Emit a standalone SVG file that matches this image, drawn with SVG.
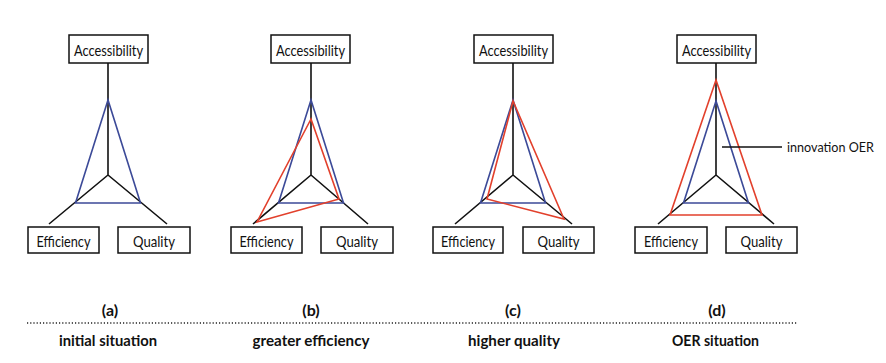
<svg xmlns="http://www.w3.org/2000/svg" width="886" height="363" viewBox="0 0 886 363">
<style>
.box{fill:#fff;stroke:#111;stroke-width:1.5}
.lbl{font-family:Lato,"Liberation Sans",sans-serif;font-size:15px;fill:#111;text-anchor:middle}
.cap{font-family:Lato,"Liberation Sans",sans-serif;font-size:16px;font-weight:bold;fill:#111;text-anchor:middle}
.ax{stroke:#111;stroke-width:1.6;fill:none}
.blue{stroke:#3c4a98;stroke-width:1.6;fill:none;stroke-linejoin:miter}
.red{stroke:#e2402c;stroke-width:1.6;fill:none;stroke-linejoin:miter}
</style>
<rect width="886" height="363" fill="#fff"/>
<g id="connectors">
  <path class="ax" d="M108,63V175M108,175L49,224M108,175L167,224"/>
  <path class="ax" d="M311,63V175M311,175L253,224M311,175L368,224"/>
  <path class="ax" d="M513,63V175M513,175L455,224M513,175L572,224"/>
  <path class="ax" d="M716,63V175M716,175L658,224M716,175L774,224"/>
  <polygon class="blue" points="108,100 75.5,203 140.5,203"/>
  <polygon class="blue" points="311,100 278.5,203 343.5,203"/>
  <polygon class="red" points="311,119 257,222 339,199"/>
  <polygon class="blue" points="513,100 480.5,203 545.5,203"/>
  <polygon class="red" points="513,101 487,199 564,219"/>
  <polygon class="blue" points="716,101 683.5,203 748.5,203"/>
  <polygon class="red" points="716,80 670,215 762,215"/>
  <line class="ax" x1="722" y1="147" x2="782" y2="147" stroke-width="1.2"/>
  <line x1="27" y1="323" x2="797" y2="323" stroke="#222" stroke-width="1.4" stroke-dasharray="1.2 2"/>
</g>
<g id="a-accessibility"><rect class="box" x="69" y="35" width="79" height="28"/><text class="lbl" x="108.5" y="56" textLength="69" lengthAdjust="spacingAndGlyphs">Accessibility</text></g>
<g id="a-efficiency"><rect class="box" x="28" y="227" width="71" height="26"/><text class="lbl" x="63.5" y="247" textLength="54" lengthAdjust="spacingAndGlyphs">Efficiency</text></g>
<g id="a-quality"><rect class="box" x="118" y="227" width="72" height="26"/><text class="lbl" x="154" y="247" textLength="42" lengthAdjust="spacingAndGlyphs">Quality</text></g>

<g id="b-accessibility"><rect class="box" x="271" y="35" width="79" height="28"/><text class="lbl" x="310.5" y="56" textLength="69" lengthAdjust="spacingAndGlyphs">Accessibility</text></g>
<g id="b-efficiency"><rect class="box" x="231" y="227" width="71" height="26"/><text class="lbl" x="266.5" y="247" textLength="54" lengthAdjust="spacingAndGlyphs">Efficiency</text></g>
<g id="b-quality"><rect class="box" x="321" y="227" width="72" height="26"/><text class="lbl" x="357" y="247" textLength="42" lengthAdjust="spacingAndGlyphs">Quality</text></g>

<g id="c-accessibility"><rect class="box" x="474" y="35" width="79" height="28"/><text class="lbl" x="513.5" y="56" textLength="69" lengthAdjust="spacingAndGlyphs">Accessibility</text></g>
<g id="c-efficiency"><rect class="box" x="433" y="227" width="70" height="26"/><text class="lbl" x="468" y="247" textLength="54" lengthAdjust="spacingAndGlyphs">Efficiency</text></g>
<g id="c-quality"><rect class="box" x="523" y="227" width="71" height="26"/><text class="lbl" x="558.5" y="247" textLength="42" lengthAdjust="spacingAndGlyphs">Quality</text></g>

<g id="d-accessibility"><rect class="box" x="677" y="35" width="79" height="28"/><text class="lbl" x="716.5" y="56" textLength="69" lengthAdjust="spacingAndGlyphs">Accessibility</text></g>
<g id="d-efficiency"><rect class="box" x="635" y="227" width="72" height="26"/><text class="lbl" x="671" y="247" textLength="54" lengthAdjust="spacingAndGlyphs">Efficiency</text></g>
<g id="d-quality"><rect class="box" x="726" y="227" width="71" height="26"/><text class="lbl" x="761.5" y="247" textLength="42" lengthAdjust="spacingAndGlyphs">Quality</text></g>

<g id="innovation-label"><text class="lbl" x="787" y="152" style="text-anchor:start;font-size:14px" textLength="87" lengthAdjust="spacingAndGlyphs">innovation OER</text></g>

<g id="captions">
  <text class="cap" x="110" y="316">(a)</text>
  <text class="cap" x="311" y="316">(b)</text>
  <text class="cap" x="513" y="316">(c)</text>
  <text class="cap" x="717" y="316">(d)</text>
  <text class="cap" x="108" y="346" textLength="98" lengthAdjust="spacingAndGlyphs">initial situation</text>
  <text class="cap" x="311" y="346" textLength="117" lengthAdjust="spacingAndGlyphs">greater efficiency</text>
  <text class="cap" x="514" y="346" textLength="92" lengthAdjust="spacingAndGlyphs">higher quality</text>
  <text class="cap" x="715.5" y="346" textLength="87" lengthAdjust="spacingAndGlyphs">OER situation</text>
</g>
</svg>
